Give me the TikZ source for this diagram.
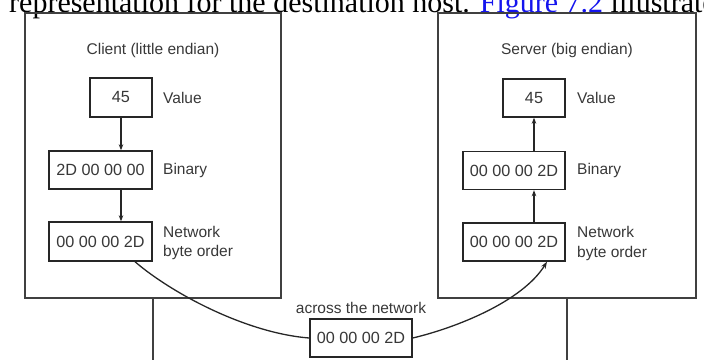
\documentclass[tikz,border=0pt]{standalone}
\usepackage{fontspec}
\setmainfont{Liberation Sans}
\newfontfamily\serifpage{Liberation Serif}
\usetikzlibrary{arrows.meta}
\definecolor{linkblue}{RGB}{20,20,238}
\begin{document}
\begin{tikzpicture}[x=1pt,y=-1pt,
  txt/.style={font=\fontsize{15.5}{19.8}\selectfont, text=black!78},
  outer/.style={draw=black!75, line width=1.8pt},
  inbox/.style={draw=black!85, line width=1.4pt, inner sep=0pt, font=\fontsize{16.2}{19}\selectfont, text=black!78},
  lbl/.style={txt, anchor=west, align=left, inner sep=0pt},
  arr/.style={line width=1.3pt, draw=black!85, -{Stealth[length=6pt,width=4.5pt]}},
  link/.style={line width=1.3pt, draw=black!85}]
\useasboundingbox (0,0) rectangle (704,360);
\clip (0,0) rectangle (704,360);
% clipped line of page text
\node[anchor=base west, font=\serifpage\fontsize{30}{36}\selectfont, inner sep=0pt] (page) at (9,12)
  {representation for the destination host. \textcolor{linkblue}{Figure 7.2} illustrates};
% outer boxes
\node[outer, minimum width=256pt, minimum height=285pt] (client) at (153,155.5) {};
\node[outer, minimum width=258pt, minimum height=285pt] (server) at (567,155.5) {};
\coordinate (cb) at (153,360);
\coordinate (sb) at (567,360);
\draw[outer] (client.south) -- (cb);
\draw[outer] (server.south) -- (sb);
% titles
\node[txt] (ctitle) at (153,50) {Client (little endian)};
\node[txt] (stitle) at (567,50) {Server (big endian)};
% client boxes
\node[inbox, minimum width=62pt, minimum height=39pt] (cval) at (121,97.5) {45};
\node[inbox, minimum width=103pt, minimum height=38pt] (cbin) at (100.5,170) {2D 00 00 00};
\node[inbox, minimum width=103pt, minimum height=39pt] (cnet) at (100.5,241.5) {00 00 00 2D};
\node[lbl] (cvall) at (163,97.5) {Value};
\node[lbl] (cbinl) at (163,170) {Binary};
\node[lbl] (cnetl) at (163,243) {Network\\byte order};
% server boxes
\node[inbox, minimum width=62pt, minimum height=38pt] (sval) at (534,98) {45};
\node[inbox, minimum width=102pt, minimum height=38pt] (sbin) at (514,170.5) {00 00 00 2D};
\node[inbox, minimum width=102pt, minimum height=38pt] (snet) at (514,242) {00 00 00 2D};
\node[lbl] (svall) at (577,98) {Value};
\node[lbl] (sbinl) at (577,170.5) {Binary};
\node[lbl] (snetl) at (577,243.5) {Network\\byte order};
% middle
\node[inbox, minimum width=102pt, minimum height=38pt] (mid) at (361,338) {00 00 00 2D};
\node[txt] (midl) at (361,308) {across the network};
% arrows
\draw[arr] (cval.south) -- (cval.south |- cbin.north);
\draw[arr] (cval.south |- cbin.south) -- (cval.south |- cnet.north);
\draw[arr] (sval.south |- sbin.north) -- (sval.south);
\draw[arr] (sval.south |- snet.north) -- (sval.south |- sbin.south);
% curves
\coordinate (c1) at ([xshift=34.5pt]cnet.south);
\coordinate (s1) at ([xshift=33pt]snet.south);
\draw[link] (c1) .. controls (170,292) and (245,333) .. (mid.west);
\draw[link, -{Stealth[length=7pt,width=5pt]}] (mid.east) .. controls (455,328) and (522,302) .. (s1);
\end{tikzpicture}
\end{document}
